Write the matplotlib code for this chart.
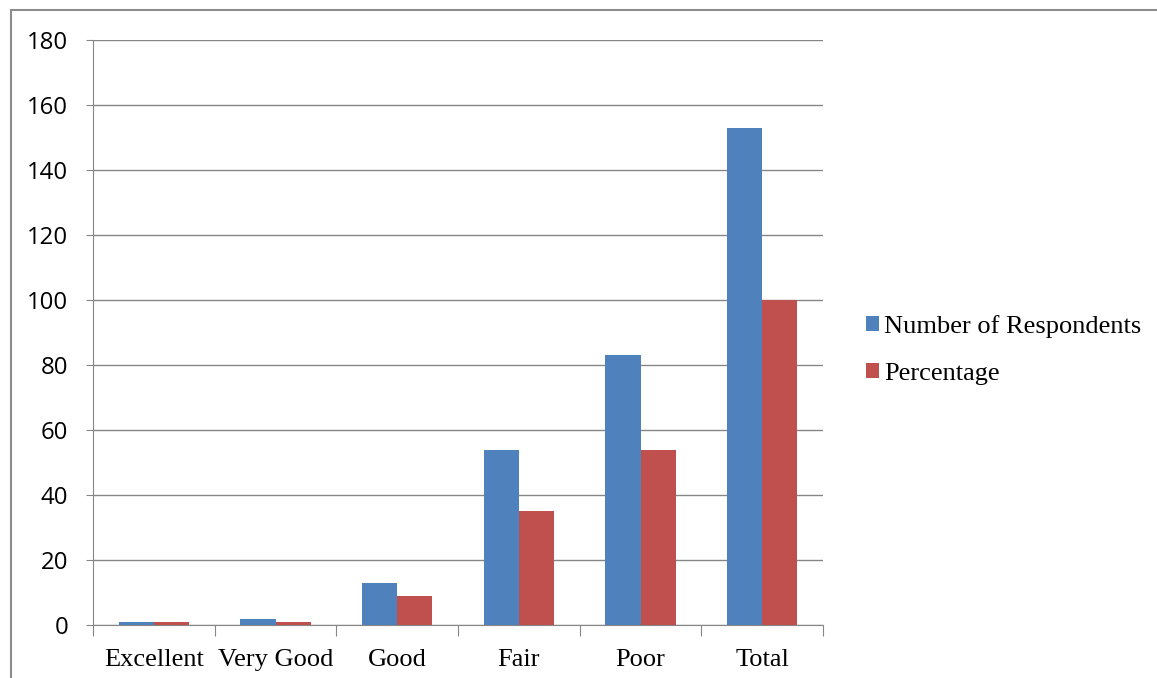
import matplotlib
matplotlib.use('Agg')
import matplotlib.pyplot as plt
import numpy as np
from matplotlib.patches import Rectangle

categories = ['Excellent', 'Very Good', 'Good', 'Fair', 'Poor', 'Total']
respondents = [1, 2, 13, 54, 83, 153]
percentage = [1, 1, 9, 35, 54, 100]
yticks = [0, 20, 40, 60, 80, 100, 120, 140, 160, 180]

blue = '#4f81bd'
red = '#c0504d'
grid = '#868686'

fig = plt.figure(figsize=(11.57, 6.78), dpi=100)
ax = fig.add_axes([93/1157, 1-625/678, (823-93)/1157, (625-40)/678])

x = np.arange(len(categories)) + 0.5
w = 0.29
ax.bar(x - w/2, respondents, w, color=blue, label='Number of Respondents', zorder=3)
ax.bar(x + w/2, percentage, w, color=red, label='Percentage', zorder=3)

ax.set_xlim(0, len(categories))
ax.set_ylim(0, 180)
ax.set_yticks(yticks)
ax.set_yticklabels([str(v) for v in yticks], fontsize=17.3, family='Open Sans')
ax.yaxis.grid(True, color=grid, linewidth=1, zorder=0)

# category labels centered, ticks at boundaries
ax.set_xticks(np.arange(len(categories) + 1))
ax.set_xticklabels([])
ax.set_xticks(x, minor=True)
ax.set_xticklabels(categories, minor=True, fontsize=19, family='Liberation Serif')
ax.tick_params(axis='x', which='minor', length=0, pad=17)
ax.tick_params(axis='x', which='major', length=8, color=grid, direction='out')
ax.tick_params(axis='y', length=5, color=grid, pad=13)

for s in ['top', 'right']:
    ax.spines[s].set_visible(False)
for s in ['left', 'bottom']:
    ax.spines[s].set_color(grid)

leg = fig.legend(loc='center left', bbox_to_anchor=(842/1157, 1-350/678), frameon=False,
                 prop={'family': 'Liberation Serif', 'size': 19},
                 handlelength=0.5, handleheight=0.5, handletextpad=0.2, labelspacing=0.95)

fig.patches.append(Rectangle((11/1157, -0.1), 1.2, 1-10/678 + 0.1, transform=fig.transFigure,
                             fill=False, edgecolor='#8c8c8c', linewidth=1.5))

fig.savefig('out.png', dpi=100)
